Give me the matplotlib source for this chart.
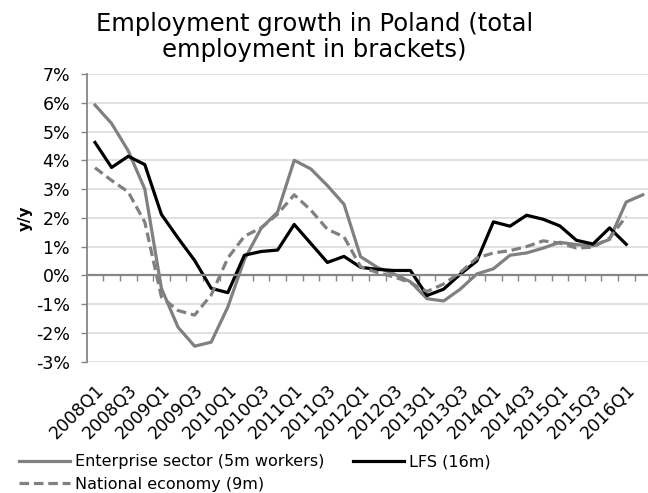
import matplotlib
matplotlib.use("Agg")
import matplotlib.pyplot as plt
from matplotlib.ticker import FixedLocator, PercentFormatter
from matplotlib.transforms import ScaledTranslation

# Quarterly y/y employment growth, 2008Q1 - 2016Q2 (%)
quarters = [f"{y}Q{q}" for y in range(2008, 2017) for q in range(1, 5)][:34]

enterprise = [5.92, 5.28, 4.33, 3.0, -0.45, -1.8, -2.46, -2.32, -1.1, 0.55,
              1.63, 2.2, 4.0, 3.7, 3.12, 2.47, 0.65, 0.28, 0.05, -0.22,
              -0.81, -0.89, -0.48, 0.05, 0.23, 0.7, 0.78, 0.95, 1.15, 1.07,
              1.03, 1.25, 2.55, 2.8]
lfs = [4.62, 3.75, 4.14, 3.85, 2.12, 1.3, 0.52, -0.45, -0.6, 0.7,
       0.83, 0.88, 1.77, 1.11, 0.45, 0.66, 0.28, 0.21, 0.17, 0.17,
       -0.7, -0.48, 0.04, 0.5, 1.86, 1.71, 2.09, 1.95, 1.72, 1.22,
       1.09, 1.65, 1.08]
national = [3.74, 3.3, 2.9, 1.85, -0.75, -1.22, -1.38, -0.68, 0.6, 1.36,
            1.65, 2.13, 2.8, 2.27, 1.6, 1.34, 0.3, 0.1, -0.05, -0.25,
            -0.56, -0.3, 0.1, 0.6, 0.78, 0.86, 1.0, 1.2, 1.12, 0.95,
            0.98, 1.3, 2.05]

gray = "#808080"
axis_gray = "#868686"
grid_gray = "#d9d9d9"

plt.rcParams["font.family"] = "DejaVu Sans"
plt.rcParams["axes.unicode_minus"] = False

fig = plt.figure(figsize=(6.48, 4.93), dpi=100)
ax = fig.add_axes([0.1338, 0.2663, 0.871, 0.5837])

x = list(range(len(quarters)))
l_ent, = ax.plot(x, enterprise, color=gray, lw=2.3,
                 label="Enterprise sector (5m workers)")
l_lfs, = ax.plot(x[:len(lfs)], lfs, color="black", lw=2.3, label="LFS (16m)")
l_nat, = ax.plot(x[:len(national)], national, color=gray, lw=2.3,
                 linestyle=(0, (3, 1.5)), label="National economy (9m)")

ax.set_xlim(-0.5, 33.5)
ax.set_ylim(-3, 7)
ax.set_yticks(range(-3, 8))
ax.yaxis.set_major_formatter(PercentFormatter(decimals=0))
ax.grid(axis="y", color=grid_gray, lw=1.1)
ax.set_axisbelow(True)

# category axis sits on the zero line, labels stay at the bottom
ax.spines["top"].set_visible(False)
ax.spines["right"].set_visible(False)
ax.spines["left"].set_color(axis_gray)
ax.spines["left"].set_linewidth(1.3)
ax.spines["bottom"].set_position(("data", 0))
ax.spines["bottom"].set_color(axis_gray)
ax.spines["bottom"].set_linewidth(1.6)

ax.set_xticks(x[::2])
ax.set_xticklabels(quarters[::2], rotation=45, ha="right",
                   rotation_mode="anchor", fontsize=12.5)
shift = ScaledTranslation(-8 / 72, -3 / 72, fig.dpi_scale_trans)
for lab in ax.get_xticklabels():
    lab.set_transform(lab.get_transform() + shift)
ax.xaxis.set_minor_locator(FixedLocator([i + 0.5 for i in range(33)]))
ax.tick_params(axis="x", which="major", length=0, pad=76)
ax.tick_params(axis="x", which="minor", length=4, width=1, color=axis_gray,
               direction="out")
ax.tick_params(axis="y", length=4, width=1, color=axis_gray, pad=8,
               labelsize=12.5)

ax.set_ylabel("y/y", fontsize=11, fontweight="bold", labelpad=2)

fig.text(0.485, 0.975, "Employment growth in Poland (total\nemployment in brackets)",
         ha="center", va="top", fontsize=17.5, linespacing=1.08)

fig.legend(handles=[l_ent, l_nat, l_lfs], loc="lower left",
           bbox_to_anchor=(0.02, -0.01), ncol=2, frameon=False,
           fontsize=11.5, handlelength=3.2, handletextpad=0.3,
           columnspacing=1.8, labelspacing=0.45, borderaxespad=0)

fig.savefig("out.png", dpi=100)
